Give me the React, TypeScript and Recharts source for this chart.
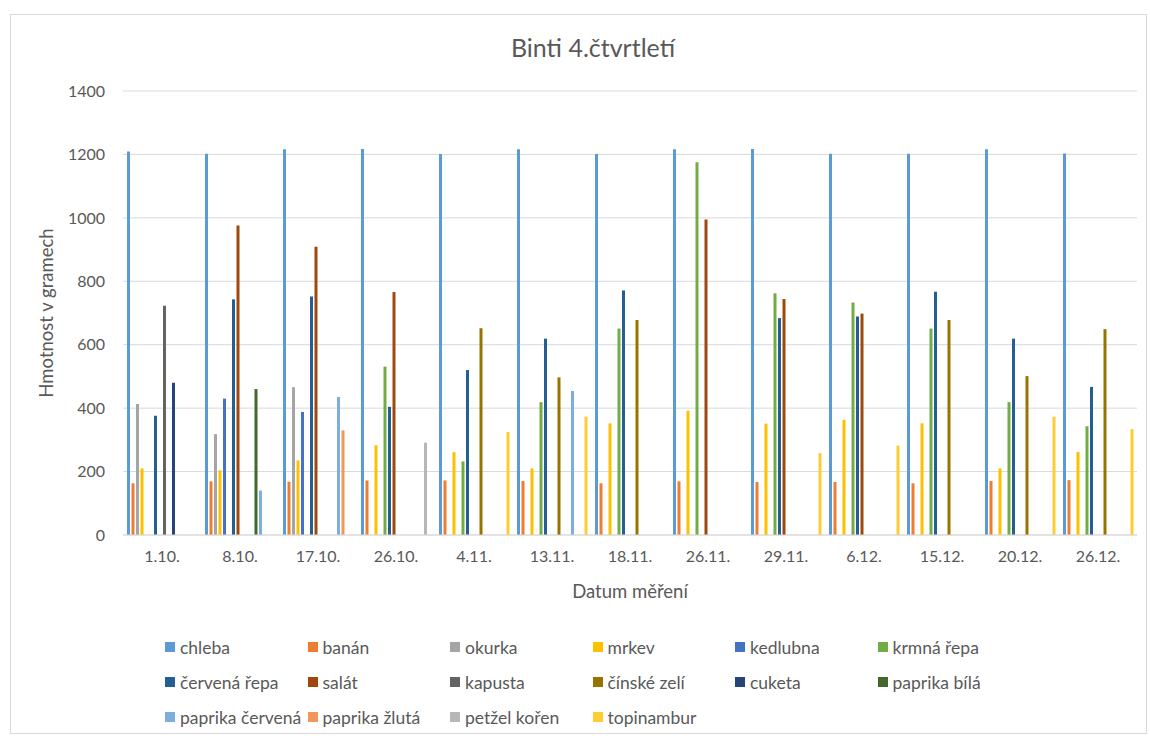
import { BarChart, Bar, XAxis, YAxis, CartesianGrid, Legend } from 'recharts';

// Datum měření
const categories = ['1.10.', '8.10.', '17.10.', '26.10.', '4.11.', '13.11.', '18.11.', '26.11.', '29.11.', '6.12.', '15.12.', '20.12.', '26.12.'];

const yTicks = [0, 200, 400, 600, 800, 1000, 1200, 1400];

// hodnoty (g), null = nevážilo se
const chleba = [1209, 1202, 1216, 1217, 1201, 1216, 1201, 1216, 1217, 1202, 1202, 1216, 1203];
const banan = [163, 169, 168, 172, 172, 170, 163, 169, 167, 167, 163, 170, 173];
const okurka = [413, 318, 466, null, null, null, null, null, null, null, null, null, null];
const mrkev = [210, 204, 235, 283, 261, 210, 352, 392, 351, 363, 352, 210, 262];
const kedlubna = [null, 430, 388, null, null, null, null, null, null, null, null, null, null];
const krmnaRepa = [null, null, null, 531, 232, 419, 651, 1175, 762, 733, 651, 419, 343];
const cervenaRepa = [376, 743, 752, 404, 520, 619, 771, null, 684, 689, 767, 619, 467];
const salat = [null, 976, 909, 766, null, null, null, 995, 744, 698, null, null, null];
const kapusta = [723, null, null, null, null, null, null, null, null, null, null, null, null];
const cinskeZeli = [null, null, null, null, 652, 497, 678, null, null, null, 678, 501, 649];
const cuketa = [480, null, null, null, null, null, null, null, null, null, null, null, null];
const paprikaBila = [null, 460, null, null, null, null, null, null, null, null, null, null, null];
const paprikaCervena = [null, 140, 435, null, null, 454, null, null, null, null, null, null, null];
const paprikaZluta = [null, null, 330, null, null, null, null, null, null, null, null, null, null];
const petzelKoren = [null, null, null, 291, null, null, null, null, null, null, null, null, null];
const topinambur = [null, null, null, null, 325, 373, null, null, 258, 282, null, 373, 334];

const SERIES = [
    { name: 'chleba', values: chleba, color: '#5B9BD5' },
    { name: 'banán', values: banan, color: '#ED7D31' },
    { name: 'okurka', values: okurka, color: '#A5A5A5' },
    { name: 'mrkev', values: mrkev, color: '#FFC000' },
    { name: 'kedlubna', values: kedlubna, color: '#4472C4' },
    { name: 'krmná řepa', values: krmnaRepa, color: '#70AD47' },
    { name: 'červená řepa', values: cervenaRepa, color: '#255E91' },
    { name: 'salát', values: salat, color: '#9E480E' },
    { name: 'kapusta', values: kapusta, color: '#636363' },
    { name: 'čínské zelí', values: cinskeZeli, color: '#997300' },
    { name: 'cuketa', values: cuketa, color: '#264478' },
    { name: 'paprika bílá', values: paprikaBila, color: '#43682B' },
    { name: 'paprika červená', values: paprikaCervena, color: '#7CAFDD' },
    { name: 'paprika žlutá', values: paprikaZluta, color: '#F1975A' },
    { name: 'petžel kořen', values: petzelKoren, color: '#B7B7B7' },
    { name: 'topinambur', values: topinambur, color: '#FFCD33' },
];

const data = categories.map((date, i) => {
    const row: Record<string, any> = { date };
    SERIES.forEach(s => {
        row[s.name] = s.values[i];
    });
    return row;
});

const TEXT = '#595959';
const FONT = 'Lato, "Open Sans", sans-serif';

// legenda v pořadí řad (Recharts by je jinak seřadil podle abecedy)
const LegendGrid = () => (
    <div style={{ display: 'grid', gridTemplateColumns: 'repeat(6, 142.5px)', rowGap: 13, fontFamily: FONT }}>
        {SERIES.map(s => (
            <div key={s.name} style={{ display: 'flex', alignItems: 'center', height: 22, fontSize: 17.5, color: TEXT, whiteSpace: 'nowrap' }}>
                <span style={{ width: 10, height: 10, background: s.color, marginRight: 5, flexShrink: 0 }} />
                {s.name}
            </div>
        ))}
    </div>
);

const YLabel = ({ viewBox }: any) => {
    const cx = 48;
    const cy = viewBox.y + viewBox.height / 2;
    return (
        <text x={cx} y={cy} transform={`rotate(-90 ${cx} ${cy})`} textAnchor="middle" dominantBaseline="middle" fill={TEXT} fontSize={18.5} fontFamily={FONT}>
            Hmotnost v gramech
        </text>
    );
};

export default function App() {
    return (
        <div style={{ position: 'absolute', left: 0, top: 0, width: 1150, height: 736, background: '#fff', fontFamily: FONT }}>
            <div style={{ position: 'absolute', left: 10, top: 14, width: 1137, height: 720, border: '1px solid #d9d9d9', boxSizing: 'border-box' }} />
            <div style={{ position: 'absolute', left: 0, top: 35, width: 1186, textAlign: 'center', fontSize: 25, lineHeight: 1, color: TEXT }}>
                Binti 4.čtvrtletí
            </div>
            <div style={{ position: 'absolute', left: 0, top: 0 }}>
                <BarChart
                    width={1150}
                    height={736}
                    data={data}
                    margin={{ top: 91, right: 13, left: 43, bottom: 136 }}
                    barCategoryGap={4}
                    barGap={1.5}
                >
                    <CartesianGrid vertical={false} stroke="#d9d9d9" />
                    <XAxis
                        dataKey="date"
                        height={65}
                        tickLine={false}
                        tickMargin={10}
                        stroke="#d9d9d9"
                        tick={{ fill: TEXT, fontSize: 16, fontFamily: FONT }}
                        label={{ value: 'Datum měření', position: 'insideBottom', offset: 2, fill: TEXT, fontSize: 18.5, fontFamily: FONT }}
                    />
                    <YAxis
                        width={80}
                        domain={[0, 1400]}
                        ticks={yTicks}
                        axisLine={false}
                        tickLine={false}
                        tickMargin={12}
                        tick={{ fill: TEXT, fontSize: 16, fontFamily: FONT }}
                        label={{ content: <YLabel /> }}
                    />
                    <Legend
                        layout="horizontal"
                        verticalAlign="middle"
                        align="center"
                        wrapperStyle={{ left: 165, top: 636, width: 900 }}
                        content={<LegendGrid />}
                    />
                    {SERIES.map(s => (
                        <Bar key={s.name} dataKey={s.name} fill={s.color} isAnimationActive={false} />
                    ))}
                </BarChart>
            </div>
        </div>
    );
}
